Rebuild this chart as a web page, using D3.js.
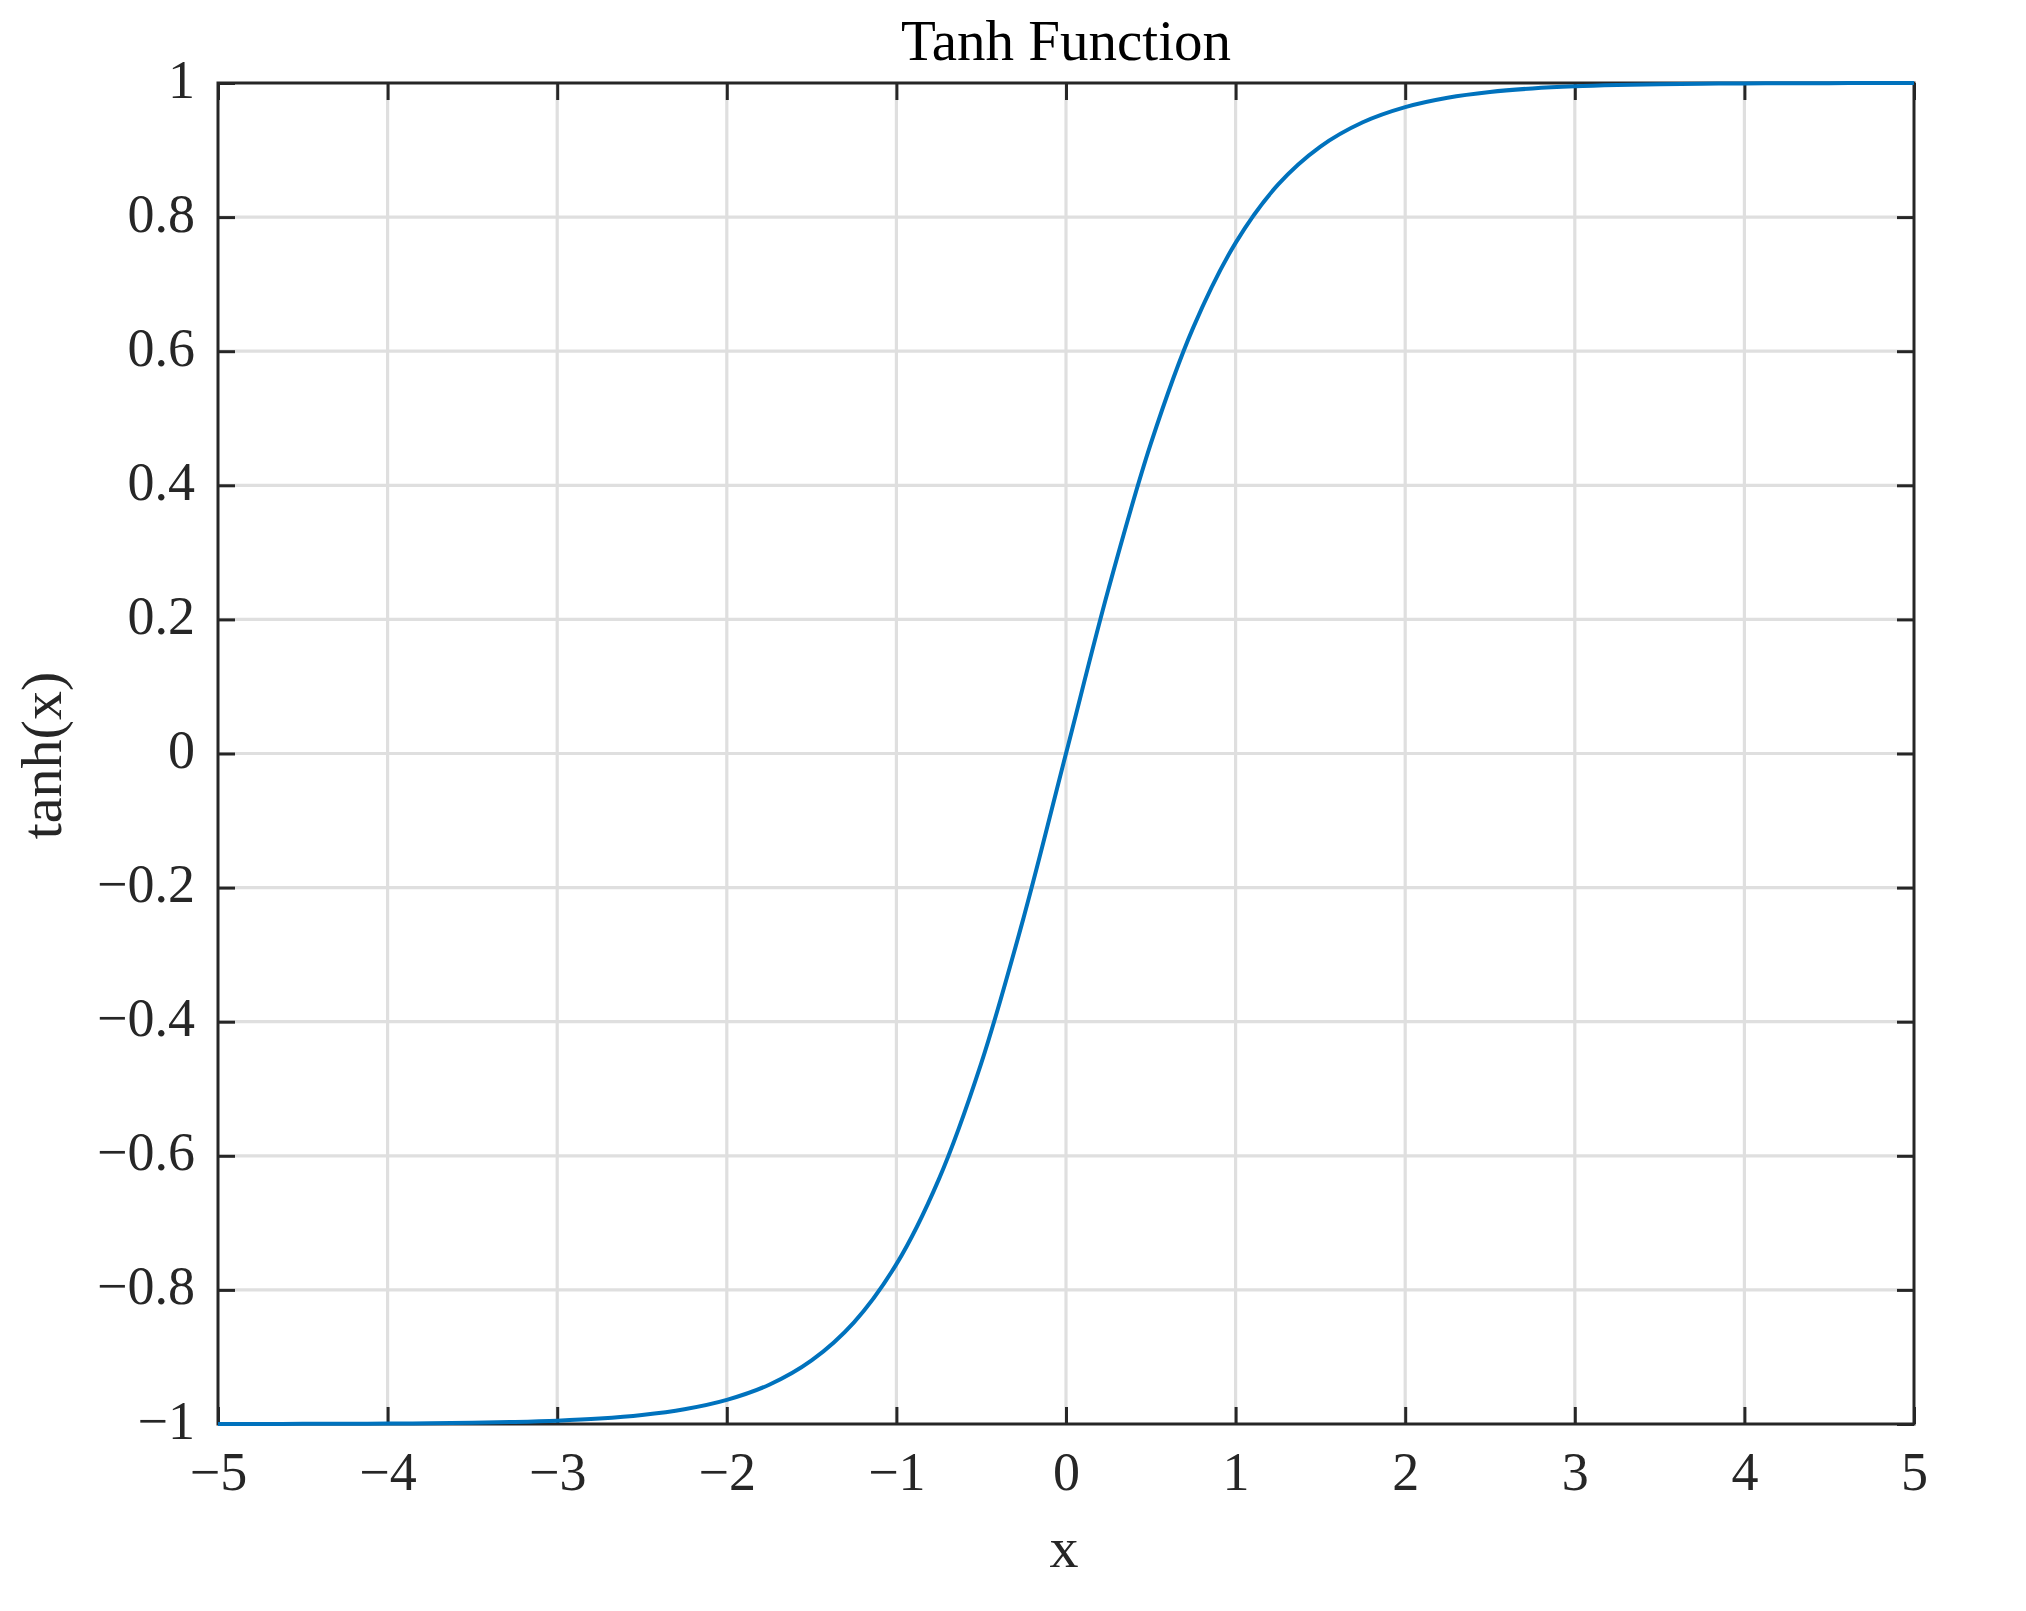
<!DOCTYPE html>
<html>
<head>
<meta charset="utf-8">
<script src="https://cdn.jsdelivr.net/npm/d3@7"></script>
<style>
  html, body { margin: 0; padding: 0; background: #fff; }
  svg { display: block; }
  text { font-family: "Liberation Serif", "Times New Roman", serif; }
</style>
</head>
<body>
<script>
// ---- data ----
const xValues = [-5,-4.75,-4.5,-4.25,-4,-3.75,-3.5,-3.25,-3,-2.75,-2.5,-2.25,-2,-1.75,-1.5,-1.25,-1,-0.75,-0.5,-0.25,0,
                 0.25,0.5,0.75,1,1.25,1.5,1.75,2,2.25,2.5,2.75,3,3.25,3.5,3.75,4,4.25,4.5,4.75,5];
const yValues = [-0.9999,-0.9999,-0.9998,-0.9996,-0.9993,-0.9989,-0.9982,-0.9970,-0.9951,-0.9919,-0.9866,-0.9780,-0.9640,-0.9414,-0.9051,-0.8483,-0.7616,-0.6351,-0.4621,-0.2449,0,
                 0.2449,0.4621,0.6351,0.7616,0.8483,0.9051,0.9414,0.9640,0.9780,0.9866,0.9919,0.9951,0.9970,0.9982,0.9989,0.9993,0.9996,0.9998,0.9999,0.9999];
const xTicks = [-5,-4,-3,-2,-1,0,1,2,3,4,5];
const yTicks = [-1,-0.8,-0.6,-0.4,-0.2,0,0.2,0.4,0.6,0.8,1];
const titleText = "Tanh Function";
const xLabel = "x";
const yLabel = "tanh(x)";

// ---- layout ----
const W = 2026, H = 1611;
const L = 218, R = 1914, T = 83, B = 1424;
const axisColor = "#262626";

const svg = d3.select("body").append("svg").attr("width", W).attr("height", H);

const x = d3.scaleLinear().domain([-5, 5]).range([L, R]);
const y = d3.scaleLinear().domain([-1, 1]).range([B, T]);

const fmt = v => {
  const s = (Math.abs(v) < 1e-9) ? "0" : String(+v.toFixed(1));
  return s.replace("-", "\u2212");
};

// grid
const grid = svg.append("g");
grid.selectAll("line.gx").data(xTicks.slice(1, -1)).join("line")
  .attr("x1", d => x(d)).attr("x2", d => x(d)).attr("y1", T).attr("y2", B)
  .attr("stroke", "#dfdfdf").attr("stroke-width", 3.2);
grid.selectAll("line.gy").data(yTicks.slice(1, -1)).join("line")
  .attr("y1", d => y(d)).attr("y2", d => y(d)).attr("x1", L).attr("x2", R)
  .attr("stroke", "#dfdfdf").attr("stroke-width", 3.2);

// axes with inward ticks on all four sides
const tickLen = 17;
const axB = svg.append("g").attr("transform", `translate(0,${B})`)
  .call(d3.axisBottom(x).tickValues(xTicks).tickSizeInner(-tickLen).tickSizeOuter(0).tickFormat(fmt));
const axT = svg.append("g").attr("transform", `translate(0,${T})`)
  .call(d3.axisTop(x).tickValues(xTicks).tickSizeInner(-tickLen).tickSizeOuter(0).tickFormat(""));
const axL = svg.append("g").attr("transform", `translate(${L},0)`)
  .call(d3.axisLeft(y).tickValues(yTicks).tickSizeInner(-tickLen).tickSizeOuter(0).tickFormat(fmt));
const axR = svg.append("g").attr("transform", `translate(${R},0)`)
  .call(d3.axisRight(y).tickValues(yTicks).tickSizeInner(-tickLen).tickSizeOuter(0).tickFormat(""));

[axB, axT, axL, axR].forEach(a => {
  a.select(".domain").remove();
  a.selectAll(".tick line").attr("stroke", axisColor).attr("stroke-width", 3);
  a.selectAll(".tick text").attr("fill", axisColor)
    .style("font-family", '"Liberation Serif", "Times New Roman", serif')
    .style("font-size", "54px");
});
axB.selectAll(".tick text").attr("y", 66).attr("dy", 0);
axL.selectAll(".tick text").attr("x", -23).attr("dy", 14);

// box
svg.append("rect").attr("x", L).attr("y", T).attr("width", R - L).attr("height", B - T)
  .attr("fill", "none").attr("stroke", axisColor).attr("stroke-width", 3);

// curve
const pts = xValues.map((v, i) => [v, yValues[i]]);
svg.append("path").datum(pts)
  .attr("d", d3.line().x(d => x(d[0])).y(d => y(d[1])).curve(d3.curveCatmullRom.alpha(0.5)))
  .attr("fill", "none").attr("stroke", "#0072BD").attr("stroke-width", 4);

// title & labels
svg.append("text").attr("x", (L + R) / 2).attr("y", 60).attr("text-anchor", "middle")
  .attr("fill", "#000").style("font-size", "57px").text(titleText);
svg.append("text").attr("x", (L + R) / 2 - 2).attr("y", 1567).attr("text-anchor", "middle")
  .attr("fill", axisColor).style("font-size", "58px").text(xLabel);
svg.append("text").attr("transform", `translate(61,${(T + B) / 2 + 2}) rotate(-90)`)
  .attr("text-anchor", "middle").attr("fill", axisColor).style("font-size", "58px").text(yLabel);
</script>
</body>
</html>
